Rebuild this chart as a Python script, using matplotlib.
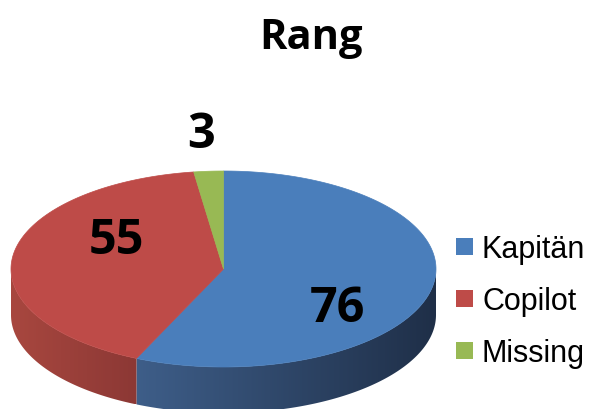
import numpy as np
import matplotlib
matplotlib.use('Agg')
import matplotlib.pyplot as plt
from matplotlib.patches import Polygon, Rectangle
from matplotlib.colors import LinearSegmentedColormap

# data
categories = ['Kapitän', 'Copilot', 'Missing']
values = [76, 55, 3]
title = 'Rang'

# styles
top_colors = ['#4a7ebb', '#be4b48', '#98b954']
side_colors = [('#3e5e89', '#1f2f48'), ('#a8473f', '#8c3835'), ('#8aa64b', '#6f8a3a')]
label_pos = [(337, 322), (116, 254), (201, 148)]  # text baselines

W, H = 592, 410
cx, cy, rx, ry, depth = 223.5, 270, 212.5, 98, 46

fig = plt.figure(figsize=(W / 100, H / 100), dpi=100)
ax = fig.add_axes([0, 0, 1, 1])
ax.axis('off')


def rim(deg, dz=0.0):
    t = np.radians(deg)
    return np.column_stack([cx + rx * np.sin(t), cy - ry * np.cos(t) + dz])


bounds = np.concatenate([[0], np.cumsum(values)]) / sum(values) * 360

# side walls (front half only), shaded left -> right
for i in range(len(values)):
    a0, a1 = max(bounds[i], 90), min(bounds[i + 1], 270)
    if a1 <= a0:
        continue
    arc = np.linspace(a0, a1, 120)
    pts = np.vstack([rim(arc), rim(arc[::-1], depth)])
    poly = Polygon(pts, closed=True, facecolor='none', edgecolor='none')
    ax.add_patch(poly)
    x0, x1 = pts[:, 0].min(), pts[:, 0].max()
    y0, y1 = pts[:, 1].min(), pts[:, 1].max()
    cmap = LinearSegmentedColormap.from_list('side%d' % i, side_colors[i])
    # left/right order depends on which way the wall runs
    grad = np.linspace(0, 1, 256).reshape(1, -1)
    im = ax.imshow(grad, cmap=cmap, extent=(x0, x1, y1, y0), aspect='auto', zorder=1)
    im.set_clip_path(poly)

# top face
for i in range(len(values)):
    arc = np.linspace(bounds[i], bounds[i + 1], 200)
    pts = np.vstack([[cx, cy], rim(arc)])
    ax.add_patch(Polygon(pts, closed=True, facecolor=top_colors[i],
                         edgecolor=top_colors[i], linewidth=0.5, zorder=2))

# data labels
for v, (lx, ly) in zip(values, label_pos):
    ax.text(lx, ly, str(v), ha='center', va='baseline', fontsize=35,
            fontweight='bold', family='Open Sans', zorder=3)

ax.text(311, 49, title, ha='center', va='baseline', fontsize=30,
        fontweight='bold', family='Open Sans')

# legend
rows = [258, 310, 362]
for name, col, yb in zip(categories, top_colors, rows):
    ax.add_patch(Rectangle((456, yb - 19), 17, 17, facecolor=col, edgecolor='none'))
    ax.text(482, yb, name, ha='left', va='baseline', fontsize=22,
            family='Liberation Sans')

ax.set_xlim(0, W)
ax.set_ylim(H, 0)
fig.savefig('out.png', dpi=100)
